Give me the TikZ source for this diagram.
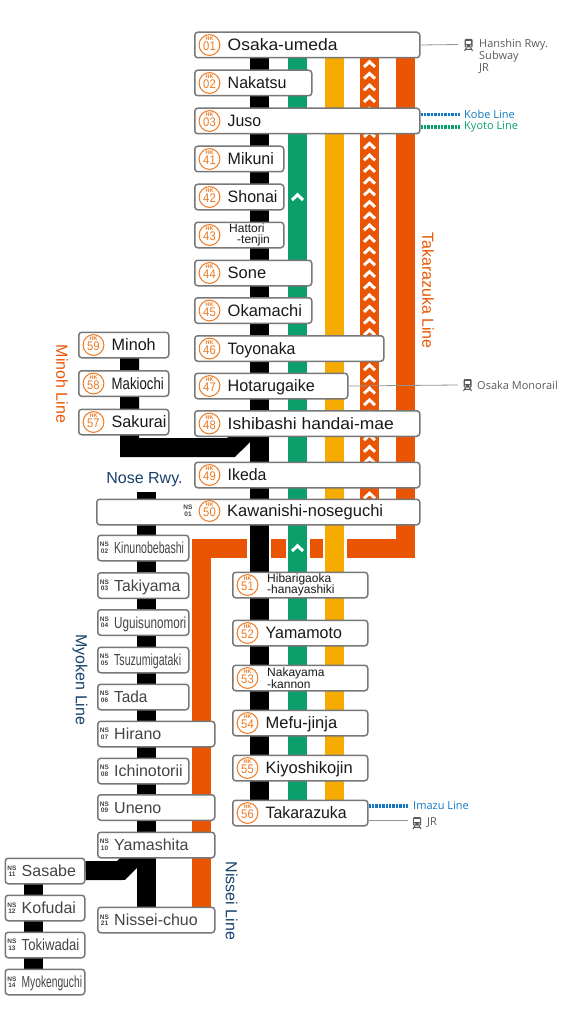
\documentclass[tikz,border=0pt]{standalone}
\usepackage{fontspec}
\setmainfont{Liberation Sans}
\newfontfamily\sidefont{Open Sans}
\usetikzlibrary{backgrounds}
\definecolor{trackgreen}{HTML}{0A9F6B}
\definecolor{trackyellow}{HTML}{F6AB00}
\definecolor{trackorange}{HTML}{EA5504}
\definecolor{badgeorange}{HTML}{EE7A22}
\definecolor{boxgray}{HTML}{777777}
\definecolor{nsgray}{HTML}{444444}
\definecolor{sidegray}{HTML}{5A5A5A}
\definecolor{nosenavy}{HTML}{17406B}
\definecolor{kobeblue}{HTML}{1277C4}
\tikzset{
  stationbox/.style={
    draw=boxgray,
    fill=white,
    line width=1.5pt,
    rounded corners=3pt,
    anchor=north west,
    inner sep=0pt,
    yshift=-0.5pt,
    minimum height=25.5pt
  },
  hkbadge/.style={
    draw=badgeorange,
    fill=white,
    circle,
    line width=1pt,
    inner sep=0pt,
    minimum size=20.8pt
  },
  hkcode/.style={
    inner sep=0pt,
    text=badgeorange,
    text height=4pt,
    text depth=0pt,
    font=\fontsize{5.5}{5.5}\selectfont\bfseries
  },
  hknum/.style={
    inner sep=0pt,
    text=badgeorange,
    text height=9pt,
    text depth=0pt,
    font=\fontsize{12.5}{12.5}\selectfont
  },
  nsbadge/.style={
    inner sep=0pt,
    align=center,
    text=nsgray,
    font=\fontsize{6.5}{6.5}\selectfont\bfseries
  },
  hklabel/.style={
    anchor=west,
    inner sep=0pt,
    text height=11pt,
    text depth=0pt,
    text=black!90,
    font=\fontsize{16.5}{16.5}\selectfont
  },
  nslabel/.style={
    hklabel,
    text=nsgray,
    font=\fontsize{16}{16}\selectfont
  },
  twolabel/.style={
    anchor=west,
    inner sep=0pt,
    align=left,
    text=black!90,
    font=\fontsize{12}{11.5}\selectfont
  },
  linelabel/.style={
    inner sep=0pt,
    font=\fontsize{16}{16}\selectfont
  },
  sidelabel/.style={
    anchor=west,
    inner sep=0pt,
    align=left,
    font=\sidefont\fontsize{11}{12}\selectfont
  },
  track/.style={line width=19pt},
  casing/.style={line width=24pt, draw=white},
  leader/.style={draw=boxgray!80, line width=0.8pt},
  dotline/.style={line width=3.5pt, dash pattern=on 2.4pt off 1pt},
  chevron/.style={draw=white, line width=3pt},
  trainicon/.pic={
    \fill[sidegray, rounded corners=1pt] (-4,-6) rectangle (4,2.5);
    \fill[white] (-2.6,-4.2) rectangle (2.6,-1);
    \fill[white] (-2.2,0.9) circle (0.8);
    \fill[white] (2.2,0.9) circle (0.8);
    \draw[sidegray, line width=1pt] (-2,2.5) -- (-4,6) (2,2.5) -- (4,6) (-3,4.4) -- (3,4.4);
  },
  chevronmark/.pic={
    \draw[chevron] (-5.5,3) -- (0,-2.2) -- (5.5,3);
  }
}
\newcommand{\hkmark}[2]{%
  \node[hkcode] (#1-code) at ([yshift=6.3pt]#1-hk.center) {HK};
  \node[hknum] (#1-num) at ([yshift=-1pt]#1-hk.center) {\scalebox{0.9}[1]{#2}};
}
\newcommand{\hkbox}[5]{%
  \node[stationbox, minimum width=#4pt-1pt] (#1) at (#2,#3) {};
  \node[hkbadge] (#1-hk) at ([xshift=15.5pt]#1.west) {};
  \hkmark{#1}{#5}
}
\newcommand{\hkstn}[7]{%
  \hkbox{#1}{#2}{#3}{#4}{#5}
  \node[hklabel] (#1-text) at ([xshift=33.5pt]#1.west) {\scalebox{#6}[1]{#7}};
}
\newcommand{\nsstn}[7]{%
  \node[stationbox, minimum width=#4pt-1pt] (#1) at (#2,#3) {};
  \node[nsbadge] (#1-ns) at ([xshift=7.5pt]#1.west) {NS\\#5};
  \node[nslabel] (#1-text) at ([xshift=17pt]#1.west) {\scalebox{#6}[1]{#7}};
}
\begin{document}
\begin{tikzpicture}[x=1pt,y=-1pt]
\useasboundingbox (0,0) rectangle (564,1035);

% Takarazuka and Kyoto main stations
\hkstn{umeda}{194}{31}{226}{01}{1.06}{Osaka-umeda}
\hkstn{nakatsu}{194}{69}{118}{02}{0.97}{Nakatsu}
\hkstn{juso}{194}{107}{226}{03}{0.96}{Juso}
\hkstn{mikuni}{194}{145}{90}{41}{0.97}{Mikuni}
\hkstn{shonai}{194}{183}{90}{42}{0.97}{Shonai}
\hkbox{hattori}{194}{221}{90}{43}
\node[twolabel] (hattori-text) at ([xshift=35pt]hattori.west) {Hattori\\\hspace{8pt}-tenjin};
\hkstn{sone}{194}{259}{118}{44}{1}{Sone}
\hkstn{okamachi}{194}{296.5}{118}{45}{1}{Okamachi}
\hkstn{toyonaka}{194}{334.5}{190}{46}{0.96}{Toyonaka}
\hkstn{hotarugaike}{194}{372}{154}{47}{0.98}{Hotarugaike}
\hkstn{ishibashi}{194}{409.5}{226}{48}{1.06}{Ishibashi handai-mae}
\hkstn{ikeda}{194}{461}{226}{49}{0.96}{Ikeda}
\node[stationbox, minimum width=323pt] (kawanishi) at (96,498) {};
\node[hkbadge] (kawanishi-hk) at (209.5,511) {};
\hkmark{kawanishi}{50}
\node[nsbadge] (kawanishi-ns) at (188,511) {NS\\01};
\node[hklabel] (kawanishi-text) at (227,511) {Kawanishi-noseguchi};
\hkbox{hibarigaoka}{232}{571}{136}{51}
\node[twolabel] (hibarigaoka-text) at ([xshift=35pt]hibarigaoka.west) {Hibarigaoka\\-hanayashiki};
\hkstn{yamamoto}{232}{619}{136}{52}{0.97}{Yamamoto}
\hkbox{nakayama}{232}{664}{136}{53}
\node[twolabel] (nakayama-text) at ([xshift=35pt]nakayama.west) {Nakayama\\-kannon};
\hkstn{mefu}{232}{709}{136}{54}{1}{Mefu-jinja}
\hkstn{kiyoshikojin}{232}{754}{136}{55}{1}{Kiyoshikojin}
\hkstn{takarazuka}{232}{799}{136}{56}{0.96}{Takarazuka}

% Minoh branch
\hkstn{minoh}{78}{331}{91}{59}{0.98}{Minoh}
\hkstn{makiochi}{78}{369.5}{91}{58}{0.8}{Makiochi}
\hkstn{sakurai}{78}{408}{91}{57}{0.98}{Sakurai}

% Nose Railway
\nsstn{kinunobebashi}{97}{534}{92}{02}{0.66}{Kinunobebashi}
\nsstn{takiyama}{97}{571.5}{92}{03}{0.98}{Takiyama}
\nsstn{uguisunomori}{97}{608.5}{92}{04}{0.73}{Uguisunomori}
\nsstn{tsuzumigataki}{97}{646}{92}{05}{0.66}{Tsuzumigataki}
\nsstn{tada}{97}{683}{92}{06}{0.96}{Tada}
\nsstn{hirano}{97}{720}{118}{07}{1}{Hirano}
\nsstn{ichinotorii}{97}{757}{92}{08}{1}{Ichinotorii}
\nsstn{uneno}{97}{793.5}{118}{09}{1}{Uneno}
\nsstn{yamashita}{97}{831}{118}{10}{1}{Yamashita}
\nsstn{nisseichuo}{97}{906}{118}{21}{1}{Nissei-chuo}
\nsstn{sasabe}{4.5}{857}{80.5}{11}{1}{Sasabe}
\nsstn{kofudai}{4.5}{894}{80.5}{12}{1}{Kofudai}
\nsstn{tokiwadai}{4.5}{931}{80.5}{13}{0.82}{Tokiwadai}
\nsstn{myokenguchi}{4.5}{968}{80.5}{14}{0.64}{Myokenguchi}

% line names
\node[linelabel, rotate=-90, text=trackorange] (takarazukaline) at (428,290.5) {Takarazuka Line};
\node[linelabel, rotate=-90, text=trackorange] (minohline) at (62,384) {Minoh Line};
\node[linelabel, rotate=-90, text=nosenavy] (myokenline) at (80,680) {Myoken Line};
\node[linelabel, rotate=-90, text=nosenavy] (nisseiline) at (231.5,901) {Nissei Line};
\node[linelabel, text=nosenavy] (noserwy) at (144.5,480) {Nose Rwy.};

% tracks, behind the stations
\coordinate (maintop) at (259,45);
\coordinate (mainbottom) at (259,812);
\coordinate (greenbottom) at (297.5,812);
\coordinate (yellowbottom) at (334.5,812);
\coordinate (greentop) at (297.5,45);
\coordinate (yellowtop) at (334.5,45);
\coordinate (hatchtop) at (369.5,45);
\coordinate (hatchbottom) at (369.5,511);
\coordinate (orangetop) at (405.5,45);
\coordinate (orangeright) at (405.5,548);
\coordinate (orangeleft) at (201.5,548);
\coordinate (orangebottom) at (201.5,919);
\coordinate (noserwytop) at (146.5,492);
\coordinate (nosebottom) at (146.5,919);
\coordinate (nosefork) at (146.5,845);
\coordinate (sasabebend) at (121,870.5);
\coordinate (kofutop) at (33,870);
\coordinate (kofubottom) at (33,981);
\coordinate (ishibashifork) at (259,420);
\coordinate (minohtop) at (129.5,345);
\coordinate (minohbend) at (129.5,447.5);
\coordinate (minohdiag) at (231,447.5);
\begin{pgfonlayer}{background}
\draw[track, draw=trackorange] (orangetop) -- (orangeright) -- (orangeleft) -- (orangebottom);
\draw[track, draw=trackorange] (hatchtop) -- (hatchbottom);
\draw[casing] (maintop) -- (mainbottom);
\draw[casing] (greentop) -- (greenbottom);
\draw[casing] (yellowtop) -- (yellowbottom);
\draw[track, draw=black] (maintop) -- (mainbottom);
\draw[track, draw=trackgreen] (greentop) -- (greenbottom);
\draw[track, draw=trackyellow] (yellowtop) -- (yellowbottom);
\draw[track, draw=black] (minohtop) -- (minohbend) -- (minohdiag) -- (ishibashifork);
\draw[track, draw=black] (noserwytop) -- (nosebottom);
\draw[track, draw=black] (sasabe) -- (sasabebend) -- (nosefork);
\draw[track, draw=black] (kofutop) -- (kofubottom);
\foreach \k in {0,...,37} {
  \pic at (369.5,64+11.66*\k) {chevronmark};
}
\pic at (297.5,197) {chevronmark};
\pic at (297.5,548) {chevronmark};
\end{pgfonlayer}

% transfers
\coordinate (umedaend) at (458,44.5);
\coordinate (kobeend) at (460,114.7);
\coordinate (kyotoend) at (460,126.8);
\coordinate (monorailend) at (458,385);
\coordinate (imazuend) at (408,806);
\coordinate (jrend) at (408,820.5);
\draw[leader] (umeda.east) -- (umedaend);
\draw[dotline, draw=kobeblue] (juso.east |- kobeend) -- (kobeend);
\draw[dotline, draw=trackgreen] (juso.east |- kyotoend) -- (kyotoend);
\draw[leader] (hotarugaike.east) -- (monorailend);
\draw[dotline, draw=kobeblue] (takarazuka.east |- imazuend) -- (imazuend);
\draw[leader] (takarazuka.east |- jrend) -- (jrend);
\pic at (468.5,45) {trainicon};
\pic at (467.5,385) {trainicon};
\pic at (417,823) {trainicon};
\node[sidelabel, text=sidegray] (umedatransfer) at (479,56.5) {Hanshin Rwy.\\Subway\\JR};
\node[sidelabel, text=kobeblue] (kobeline) at (464,114) {Kobe Line};
\node[sidelabel, text=trackgreen] (kyotoline) at (464,127) {Kyoto Line};
\node[sidelabel, text=sidegray] (monorail) at (477,385) {Osaka Monorail};
\node[sidelabel, text=kobeblue] (imazuline) at (413,806) {Imazu Line};
\node[sidelabel, text=sidegray] (jrtransfer) at (427,823) {JR};
\end{tikzpicture}
\end{document}
